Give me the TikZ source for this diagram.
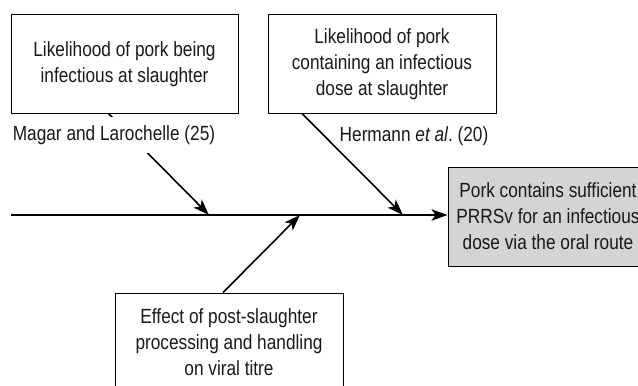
\documentclass[tikz,border=0pt]{standalone}
\usepackage{fontspec}
\setmainfont{Liberation Sans}[FakeStretch=0.84]
\usetikzlibrary{arrows.meta,calc}

\tikzset{every picture/.style={line width=0.75pt}}
\tikzset{
  every node/.style={font=\fontsize{15.4pt}{19.5pt}\selectfont, text=black!90},
  factor/.style={draw, align=center, inner sep=0pt, minimum width=171pt, minimum height=73.5pt},
  outcome/.style={factor, fill=black!17, minimum width=150pt, minimum height=74.25pt},
  ref/.style={fill=white, inner xsep=1pt, inner ysep=6pt},
  cause/.style={line width=1.2pt, -{Stealth[length=12pt,width=8.5pt,inset=3pt]}}
}

\begin{document}
\begin{tikzpicture}[x=0.75pt,y=0.75pt,yscale=-1,xscale=1]
\useasboundingbox (0,0) rectangle (638,385);

% Boxes
\node [factor, minimum width=170.25pt] (inf) at (124.5,64) {Likelihood of pork being\\infectious at slaughter};
\node [factor] (dose) at (382,64) {Likelihood of pork\\containing an infectious\\dose at slaughter};
\node [factor] (proc) at (229,342) {Effect of post-slaughter\\processing and handling\\on viral titre};
\node [outcome] (pork) at (548,216.5) {Pork contains sufficient\\PRRSv for an infectious\\dose via the oral route};

% Spine
\coordinate (tail) at (11,215);
\coordinate (j1) at (209,215);
\coordinate (j2) at (403,215);
\coordinate (j3) at (300,215);
\draw [cause] (tail) -- (pork.west |- tail);

% Branches
\draw [cause] ($(inf.south)+(-16,0)$) -- (j1);
\draw [cause] ($(dose.south)+(-80,0)$) -- (j2);
\draw [cause] ($(proc.north)+(-6,0)$) -- (j3);

% Text Node
\node [ref] (mag) at (114,135) {Magar and Larochelle (25)};
% Text Node
\node [ref, inner ysep=1pt] (her) at (414,136) {Hermann \textit{et al}.\ (20)};

\end{tikzpicture}
\end{document}
